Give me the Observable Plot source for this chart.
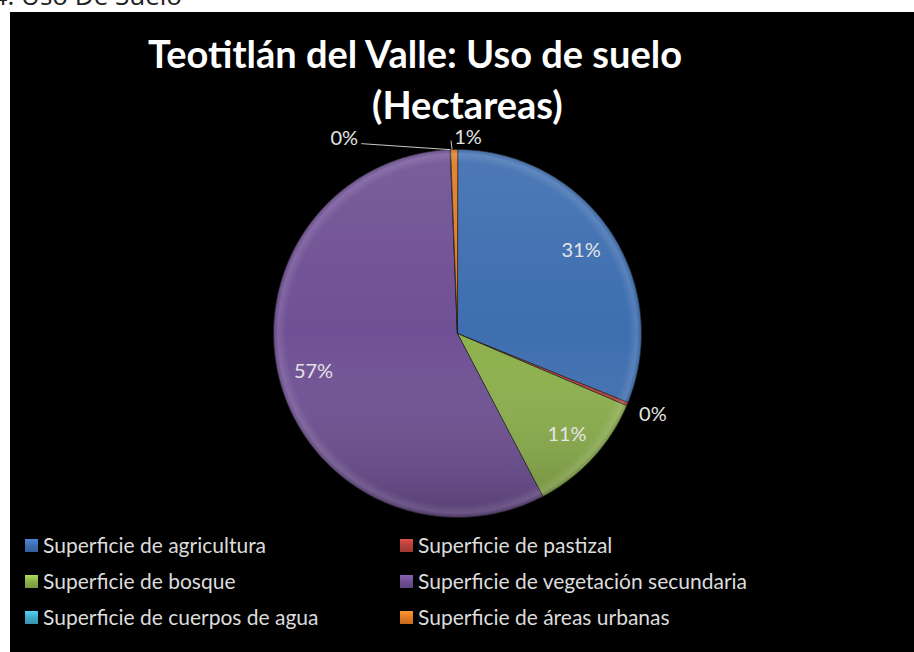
<!DOCTYPE html>
<html><head><meta charset="utf-8">
<script src="https://cdn.jsdelivr.net/npm/d3@7"></script>
<script src="https://cdn.jsdelivr.net/npm/@observablehq/plot@0.6"></script>
<style>
html,body{margin:0;padding:0;background:#fff;width:914px;height:652px;overflow:hidden;}
#heading{position:absolute;right:732px;top:-20px;font:26px "Open Sans",sans-serif;color:#222;white-space:nowrap;line-height:30px;}
#panel{position:absolute;left:10px;top:12px;width:904px;height:640px;background:#000;overflow:hidden;}
#chart{position:absolute;left:0;top:0;}
.t{position:absolute;color:#fff;font-family:Lato,sans-serif;font-weight:bold;white-space:nowrap;font-size:38px;line-height:38px;}
.lg{position:absolute;display:flex;align-items:center;font:21px Lato,sans-serif;color:#dcdcdc;white-space:nowrap;height:26px;line-height:26px;}
.sw{width:13px;height:13px;margin-right:5px;}
</style></head><body>
<div id="heading">4. Uso De Suelo</div>
<div id="panel">
  <div id="chart"></div>
  <div class="t" id="t1" style="left:138px;top:22px;"></div>
  <div class="t" id="t2" style="left:362px;top:73px;"></div>
  <div id="legend"></div>
</div>
<script>
const titleLines = ["Teotitlán del Valle: Uso de suelo", "(Hectareas)"];
const names = [
  "Superficie de agricultura",
  "Superficie de pastizal",
  "Superficie de bosque",
  "Superficie de vegetación secundaria",
  "Superficie de cuerpos de agua",
  "Superficie de áreas urbanas"
];
const values = [31.1, 0.3, 10.9, 57.0, 0.05, 0.6];
const colors = ["#3e6eb0", "#b5403a", "#8cb04b", "#6f5094", "#3faac8", "#e37a24"];

document.getElementById("t1").textContent = titleLines[0];
document.getElementById("t2").textContent = titleLines[1];

const W = 904, H = 640, cx = 447, cy = 321, r = 184;
const total = d3.sum(values);
const arcs = d3.pie().sort(null).value(d => d)(values);

// slice polygons in unit-circle coordinates
const pts = [];
arcs.forEach((p, i) => {
  pts.push({name: names[i], x: 0, y: 0});
  const n = Math.max(2, Math.ceil((p.endAngle - p.startAngle) / (Math.PI / 180)));
  for (let k = 0; k <= n; k++) {
    const a = p.startAngle + (p.endAngle - p.startAngle) * k / n;
    pts.push({name: names[i], x: Math.sin(a), y: Math.cos(a)});
  }
});

// labels
const labels = [], leaders = [];
arcs.forEach((p, i) => {
  const mid = (p.startAngle + p.endAngle) / 2;
  const pct = Math.round(values[i] / total * 100) + "%";
  const ax = Math.sin(mid), ay = Math.cos(mid);
  if (values[i] / total >= 0.05) {
    labels.push({x: 0.81 * ax, y: 0.81 * ay, text: pct});
  } else if (i === 1) {
    labels.push({x: 1.15 * ax, y: 1.15 * ay, text: pct});
  } else if (i === 4) {
    const lx = ax - 106 / r, ly = ay + 11 / r;
    labels.push({x: lx, y: ly, text: pct});
    leaders.push({x1: ax, y1: ay, x2: lx + 17 / r, y2: ly - 5 / r});
  } else {
    const lx = ax + 14 / r, ly = ay + 12 / r;
    labels.push({x: lx, y: ly, text: pct});
    leaders.push({x1: ax - 2 / r, y1: ay, x2: ax - 3 / r, y2: ay + 9 / r});
  }
});

const svg = Plot.plot({
  width: W, height: H, margin: 0,
  style: {background: "transparent", overflow: "visible"},
  x: {domain: [-1, 1], range: [cx - r, cx + r], axis: null},
  y: {domain: [-1, 1], range: [cy + r, cy - r], axis: null},
  color: {domain: names, range: colors},
  marks: [
    Plot.line(pts, {x: "x", y: "y", z: "name", fill: "name", stroke: "#1c1c1c", strokeWidth: 0.7, curve: "linear-closed"}),
    Plot.line(pts, {x: "x", y: "y", z: "name", fill: "url(#shade)", stroke: "none", curve: "linear-closed"}),
    Plot.line(pts, {x: "x", y: "y", z: "name", fill: "url(#rim)", stroke: "none", curve: "linear-closed"}),
    Plot.link(leaders, {x1: "x1", y1: "y1", x2: "x2", y2: "y2", stroke: "#c8c8c8", strokeWidth: 1}),
    Plot.text(labels, {x: "x", y: "y", text: "text", fill: "#e4e4e4", fontSize: 20, fontFamily: "Lato, sans-serif"})
  ]
});
const defs = d3.select(svg).insert("defs", ":first-child");
const g = defs.append("linearGradient").attr("id", "shade").attr("gradientUnits", "userSpaceOnUse")
  .attr("x1", 0).attr("y1", cy - r).attr("x2", 0).attr("y2", cy + r);
g.append("stop").attr("offset", "0%").attr("stop-color", "#fff").attr("stop-opacity", 0.08);
g.append("stop").attr("offset", "50%").attr("stop-color", "#fff").attr("stop-opacity", 0);
g.append("stop").attr("offset", "100%").attr("stop-color", "#000").attr("stop-opacity", 0.22);
const rg = defs.append("radialGradient").attr("id", "rim").attr("gradientUnits", "userSpaceOnUse")
  .attr("cx", cx).attr("cy", cy).attr("r", r);
rg.append("stop").attr("offset", "0.93").attr("stop-color", "#fff").attr("stop-opacity", 0);
rg.append("stop").attr("offset", "0.975").attr("stop-color", "#fff").attr("stop-opacity", 0.12);
rg.append("stop").attr("offset", "1").attr("stop-color", "#000").attr("stop-opacity", 0.1);
document.getElementById("chart").appendChild(svg);

// legend: two columns, row-major
const legend = document.getElementById("legend");
names.forEach((n, i) => {
  const col = i % 2, row = Math.floor(i / 2);
  const d = document.createElement("div");
  d.className = "lg";
  d.style.left = (col ? 390 : 15) + "px";
  d.style.top = (520 + row * 36) + "px";
  const s = document.createElement("span");
  s.className = "sw";
  s.style.background = `linear-gradient(${d3.color(colors[i]).brighter(0.6)}, ${colors[i]} 50%, ${d3.color(colors[i]).darker(0.4)})`;
  d.appendChild(s);
  d.appendChild(document.createTextNode(n));
  legend.appendChild(d);
});
</script>
</body></html>
